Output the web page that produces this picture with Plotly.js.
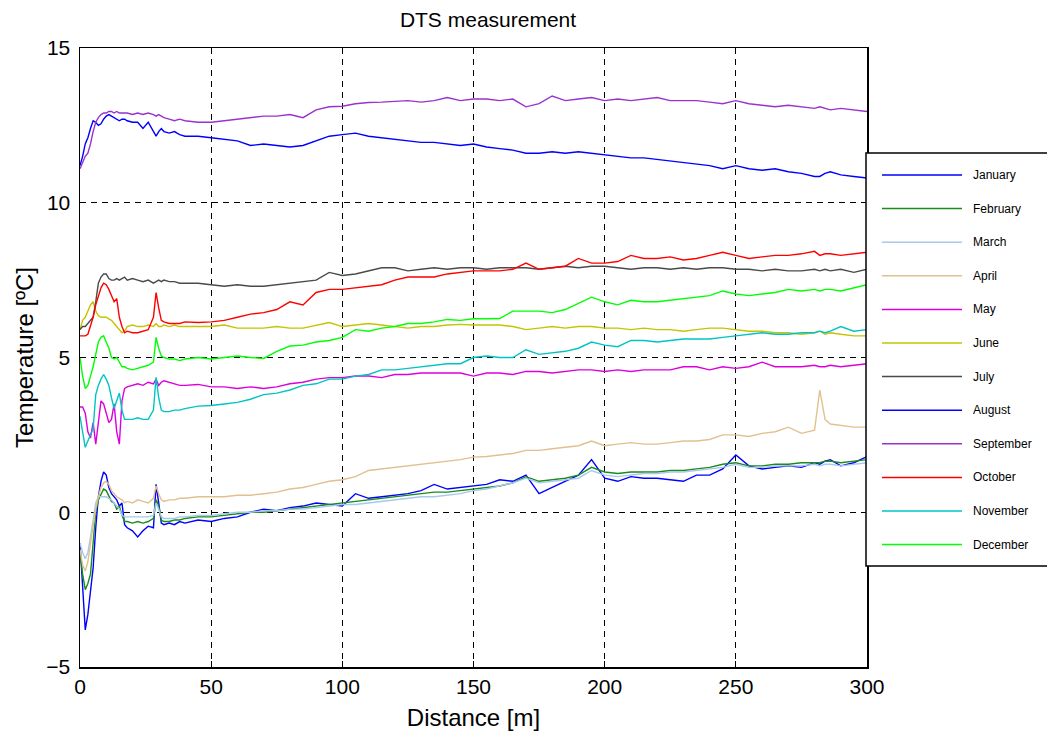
<!DOCTYPE html>
<html>
<head>
<meta charset="utf-8">
<script src="https://cdn.plot.ly/plotly-3.0.1.min.js"></script>
<style>
html,body{margin:0;padding:0;background:#fff;}
#chart{width:1047px;height:737px;}
</style>
</head>
<body>
<div id="chart"></div>
<script>
// Distance along the cable [m]
const distance = [
  0,1,2,3,4,5,6,7,8,9,10,11,12,13,14,15,16,17,18,20,22,24,26,28,29,30,31,32,34,36,38,40,
  45,50,55,60,65,70,75,80,85,90,95,100,105,110,115,120,125,130,135,140,145,150,155,160,165,170,
  175,180,185,190,195,200,205,210,215,220,225,230,235,240,245,250,255,260,265,270,275,280,282,284,286,290,295,300
];

const months = ["January","February","March","April","May","June","July","August","September","October","November","December"];

const january = [
  -1.0,-2.5,-3.8,-3.3,-2.6,-1.8,-0.5,0.5,1.0,1.3,1.2,0.8,0.6,0.5,0.4,0.2,0.3,-0.4,-0.5,-0.6,-0.8,-0.6,-0.45,-0.5,0.9,0.3,-0.35,-0.4,-0.35,-0.4,-0.3,-0.35,
  -0.25,-0.3,-0.2,-0.15,0.0,0.1,0.05,0.15,0.2,0.3,0.25,0.2,0.6,0.45,0.5,0.55,0.6,0.7,0.9,0.75,0.8,0.85,0.9,1.05,1.0,1.2,
  0.6,0.8,1.0,1.2,1.7,1.1,1.0,1.15,1.1,1.1,1.05,1.0,1.2,1.2,1.4,1.85,1.5,1.4,1.45,1.5,1.45,1.6,1.55,1.65,1.7,1.5,1.6,1.8
];
const february = [
  -1.3,-2.0,-2.5,-2.3,-2.0,-1.0,0.0,0.4,0.6,0.75,0.7,0.5,0.35,0.3,0.1,0.2,-0.1,-0.3,-0.3,-0.35,-0.3,-0.35,-0.3,-0.2,0.4,0.2,-0.25,-0.3,-0.3,-0.25,-0.25,-0.2,
  -0.15,-0.15,-0.1,-0.05,0.0,0.0,0.05,0.1,0.15,0.2,0.25,0.3,0.35,0.4,0.45,0.5,0.55,0.6,0.65,0.65,0.7,0.75,0.8,0.85,0.95,1.15,
  1.0,1.05,1.1,1.2,1.45,1.3,1.25,1.3,1.3,1.3,1.35,1.35,1.4,1.45,1.55,1.6,1.5,1.5,1.55,1.55,1.6,1.6,1.6,1.65,1.65,1.6,1.65,1.7
];
const march = [
  -1.0,-1.3,-1.5,-1.3,-0.8,-0.2,0.3,0.5,0.5,0.5,0.5,0.45,0.4,0.3,0.2,0.1,-0.1,-0.15,-0.15,-0.15,-0.15,-0.15,-0.15,-0.1,0.3,0.1,-0.15,-0.2,-0.2,-0.2,-0.15,-0.15,
  -0.1,-0.1,-0.05,0.0,0.0,0.05,0.05,0.1,0.1,0.15,0.2,0.25,0.25,0.3,0.35,0.4,0.45,0.5,0.5,0.55,0.6,0.7,0.75,0.85,0.95,1.1,
  0.95,1.0,1.05,1.1,1.35,1.2,1.15,1.2,1.25,1.25,1.3,1.3,1.35,1.4,1.45,1.55,1.45,1.45,1.5,1.5,1.5,1.55,1.5,1.55,1.55,1.5,1.55,1.6
];
const april = [
  -1.2,-1.7,-1.9,-1.6,-1.0,-0.4,0.1,0.5,0.8,0.95,1.0,0.9,0.7,0.6,0.5,0.45,0.4,0.3,0.35,0.3,0.4,0.35,0.3,0.45,0.85,0.6,0.4,0.35,0.4,0.4,0.45,0.45,
  0.5,0.5,0.5,0.55,0.55,0.6,0.65,0.75,0.8,0.9,1.0,1.05,1.15,1.35,1.4,1.45,1.5,1.55,1.6,1.65,1.7,1.78,1.8,1.85,1.9,2.0,
  2.0,2.05,2.1,2.15,2.3,2.15,2.2,2.25,2.2,2.2,2.25,2.3,2.3,2.35,2.5,2.5,2.45,2.55,2.6,2.75,2.55,2.65,3.95,3.0,2.85,2.8,2.75,2.75
];
const may = [
  3.4,3.4,3.2,2.6,2.4,2.9,2.2,3.0,3.6,3.5,3.2,2.9,3.0,3.5,2.6,2.2,3.6,4.0,4.05,4.1,4.15,4.1,4.2,4.15,4.3,4.1,4.2,4.25,4.2,4.15,4.1,4.1,
  4.13,4.05,4.05,4.0,4.05,4.0,4.05,4.15,4.2,4.3,4.35,4.35,4.4,4.4,4.35,4.45,4.45,4.5,4.5,4.5,4.5,4.4,4.5,4.5,4.45,4.55,
  4.55,4.5,4.55,4.6,4.6,4.55,4.6,4.55,4.6,4.6,4.6,4.7,4.7,4.6,4.7,4.65,4.7,4.85,4.7,4.7,4.7,4.75,4.7,4.7,4.75,4.7,4.75,4.8
];
const june = [
  5.9,6.2,6.3,6.5,6.7,6.8,6.5,6.35,6.3,6.3,6.3,6.25,6.2,6.1,6.0,5.9,5.8,5.85,6.0,6.05,6.0,6.0,6.05,6.0,6.1,6.0,6.0,6.05,6.0,6.05,6.0,6.0,
  6.0,6.0,6.05,5.95,5.95,5.95,6.0,5.95,5.95,6.05,6.13,6.0,6.05,6.1,6.05,6.0,5.95,6.0,6.0,6.05,6.07,6.05,6.05,6.05,6.0,5.9,
  5.95,6.0,5.95,6.0,6.0,5.95,5.95,5.9,5.95,5.9,5.9,5.85,5.9,5.95,5.95,5.9,5.85,5.85,5.8,5.8,5.75,5.8,5.85,5.75,5.8,5.75,5.7,5.7
];
const july = [
  5.9,6.0,6.0,6.1,6.2,6.3,6.8,7.4,7.6,7.7,7.7,7.55,7.5,7.5,7.55,7.5,7.55,7.6,7.5,7.55,7.5,7.45,7.5,7.4,7.45,7.5,7.45,7.5,7.45,7.45,7.4,7.4,
  7.4,7.35,7.3,7.35,7.3,7.3,7.35,7.4,7.45,7.5,7.75,7.65,7.7,7.8,7.9,7.9,7.8,7.85,7.9,7.85,7.9,7.9,7.85,7.9,7.9,7.9,
  7.85,7.9,7.95,7.9,7.95,7.95,7.9,7.85,7.9,7.9,7.85,7.9,7.85,7.9,7.9,7.85,7.85,7.8,7.85,7.8,7.8,7.85,7.8,7.85,7.8,7.85,7.75,7.85
];
const august = [
  11.2,11.5,11.9,12.1,12.4,12.65,12.6,12.5,12.55,12.7,12.8,12.85,12.8,12.75,12.7,12.65,12.7,12.7,12.65,12.6,12.6,12.4,12.6,12.3,12.15,12.3,12.4,12.3,12.25,12.3,12.2,12.15,
  12.15,12.1,12.05,12.0,11.85,11.9,11.85,11.8,11.85,12.0,12.15,12.2,12.25,12.15,12.1,12.05,12.0,11.95,11.95,11.9,11.85,11.9,11.8,11.75,11.7,11.6,
  11.6,11.65,11.6,11.65,11.6,11.55,11.5,11.45,11.45,11.4,11.35,11.3,11.25,11.2,11.1,11.2,11.1,11.05,11.1,11.0,10.95,10.85,10.85,10.95,11.0,10.9,10.85,10.8
];
const september = [
  11.1,11.3,11.5,11.6,11.9,12.3,12.6,12.75,12.85,12.9,12.9,12.95,12.95,12.9,12.95,12.9,12.9,12.92,12.9,12.85,12.9,12.85,12.9,12.85,12.8,12.85,12.8,12.75,12.7,12.65,12.7,12.65,
  12.6,12.6,12.65,12.7,12.75,12.8,12.8,12.85,12.75,13.0,13.1,13.12,13.2,13.24,13.25,13.28,13.3,13.25,13.3,13.4,13.3,13.35,13.35,13.3,13.35,13.1,
  13.2,13.45,13.3,13.35,13.4,13.3,13.35,13.3,13.35,13.4,13.3,13.3,13.3,13.25,13.2,13.3,13.2,13.15,13.1,13.15,13.1,13.05,13.1,13.05,13.0,13.05,13.0,12.95
];
const october = [
  5.7,5.7,5.7,5.75,6.0,6.3,6.7,7.0,7.25,7.4,7.35,7.2,7.0,6.8,6.9,6.3,6.0,5.8,5.85,5.8,5.8,5.85,5.9,6.3,7.1,6.6,6.2,6.15,6.1,6.1,6.1,6.15,
  6.13,6.15,6.2,6.3,6.4,6.45,6.55,6.8,6.7,7.1,7.2,7.2,7.25,7.3,7.35,7.5,7.6,7.6,7.6,7.7,7.75,7.8,7.8,7.8,7.85,8.05,
  7.85,7.9,7.95,8.2,8.05,8.05,8.1,8.3,8.2,8.2,8.25,8.15,8.2,8.3,8.4,8.3,8.2,8.25,8.3,8.3,8.35,8.43,8.3,8.35,8.35,8.3,8.35,8.4
];
const november = [
  3.1,2.6,2.1,2.3,2.5,2.7,3.8,4.1,4.3,4.45,4.3,4.1,3.7,3.35,3.6,3.85,3.3,3.0,3.0,3.0,3.05,3.0,3.0,3.3,4.36,3.7,3.3,3.25,3.25,3.3,3.3,3.35,
  3.43,3.45,3.5,3.55,3.65,3.8,3.85,3.95,4.1,4.15,4.3,4.3,4.4,4.45,4.6,4.6,4.65,4.7,4.75,4.8,4.8,5.0,5.05,5.0,5.0,5.25,
  5.1,5.15,5.2,5.3,5.5,5.4,5.35,5.55,5.55,5.5,5.55,5.6,5.6,5.6,5.65,5.7,5.75,5.8,5.75,5.75,5.8,5.8,5.85,5.8,5.85,6.0,5.85,5.9
];
const december = [
  5.0,4.4,4.0,4.1,4.4,4.7,5.1,5.5,5.65,5.7,5.5,5.3,5.0,4.95,5.0,4.85,4.7,4.7,4.65,4.6,4.65,4.7,4.75,4.85,5.65,5.3,5.05,5.0,4.95,4.95,4.9,4.95,
  5.0,4.95,5.0,5.05,5.0,4.97,5.2,5.37,5.4,5.5,5.55,5.65,5.9,5.85,5.95,6.0,6.1,6.1,6.15,6.23,6.2,6.25,6.25,6.26,6.5,6.5,
  6.5,6.45,6.55,6.75,6.95,6.8,6.7,6.85,6.8,6.8,6.85,6.9,6.95,7.0,7.15,7.05,7.0,7.05,7.1,7.2,7.15,7.2,7.15,7.2,7.2,7.15,7.25,7.35
];

const series = [january,february,march,april,may,june,july,august,september,october,november,december];
const colors = ["#0000ff","#1a8c1a","#a8c8ee","#e2c08e","#dd00dd","#c4c400","#4a4a4a","#0000ff","#9933cc","#ff0000","#00c4c4","#00ff00"];

const traces = series.map((vals, i) => ({
  type: "scatter",
  mode: "lines",
  x: distance,
  y: vals,
  name: months[i],
  line: {color: colors[i], width: 1.4},
  hoverinfo: "x+y+name"
}));

// ---- layout geometry (pixels) ----
const W = 1047, H = 737;
const M = {l: 80, r: 180, t: 48, b: 70};
const plotW = W - M.l - M.r, plotH = H - M.t - M.b;
const px = v => (v - M.l) / plotW;          // pixel x -> paper x
const py = v => 1 - (v - M.t) / plotH;      // pixel y -> paper y

const FONT = "Liberation Sans, Arial, sans-serif";

// Custom legend (box, sample lines, labels)
const shapes = [{
  type: "rect", xref: "paper", yref: "paper",
  x0: px(866), x1: px(1052), y0: py(566), y1: py(153),
  line: {color: "#000", width: 1.5}, fillcolor: "#ffffff", layer: "above"
}];
const annotations = [];
const legTop = 175, legStep = 33.6;
months.forEach((m, i) => {
  const yy = py(legTop + legStep * i);
  shapes.push({
    type: "line", xref: "paper", yref: "paper",
    x0: px(882), x1: px(962), y0: yy, y1: yy,
    line: {color: colors[i], width: 1.5}, layer: "above"
  });
  annotations.push({
    xref: "paper", yref: "paper", x: px(971), y: yy,
    xanchor: "left", yanchor: "middle", showarrow: false,
    text: m, font: {family: FONT, size: 12, color: "#000"}
  });
});

const axisFont = {family: FONT, size: 21, color: "#000"};

const layout = {
  width: W,
  height: H,
  paper_bgcolor: "#ffffff",
  plot_bgcolor: "#ffffff",
  margin: M,
  font: axisFont,
  showlegend: false,
  title: {
    text: "DTS measurement",
    font: {family: FONT, size: 21, color: "#000"},
    xref: "paper", x: px(488), xanchor: "center",
    yref: "container", y: 1 - 20 / H, yanchor: "middle"
  },
  xaxis: {
    range: [0, 300],
    tickvals: [0,50,100,150,200,250,300],
    ticks: "inside", ticklen: 6, tickcolor: "#000",
    showline: true, linecolor: "#000", linewidth: 1.5, mirror: "ticks",
    showgrid: true, gridcolor: "#000", gridwidth: 1, griddash: "6px,5px",
    zeroline: false,
    tickfont: axisFont,
    title: {text: "Distance [m]", font: {family: FONT, size: 24, color: "#000"}, standoff: 12}
  },
  yaxis: {
    range: [-5, 15],
    tickvals: [-5,0,5,10,15],
    ticks: "inside", ticklen: 6, tickcolor: "#000",
    showline: true, linecolor: "#000", linewidth: 1.5, mirror: "ticks",
    showgrid: true, gridcolor: "#000", gridwidth: 1, griddash: "6px,5px",
    zeroline: false,
    tickfont: axisFont,
    ticklabelstandoff: 4,
    title: {text: "Temperature [ºC]", font: {family: FONT, size: 24, color: "#000"}, standoff: 6}
  },
  shapes: shapes,
  annotations: annotations
};

Plotly.newPlot("chart", traces, layout, {displayModeBar: false, staticPlot: true});
</script>
</body>
</html>
